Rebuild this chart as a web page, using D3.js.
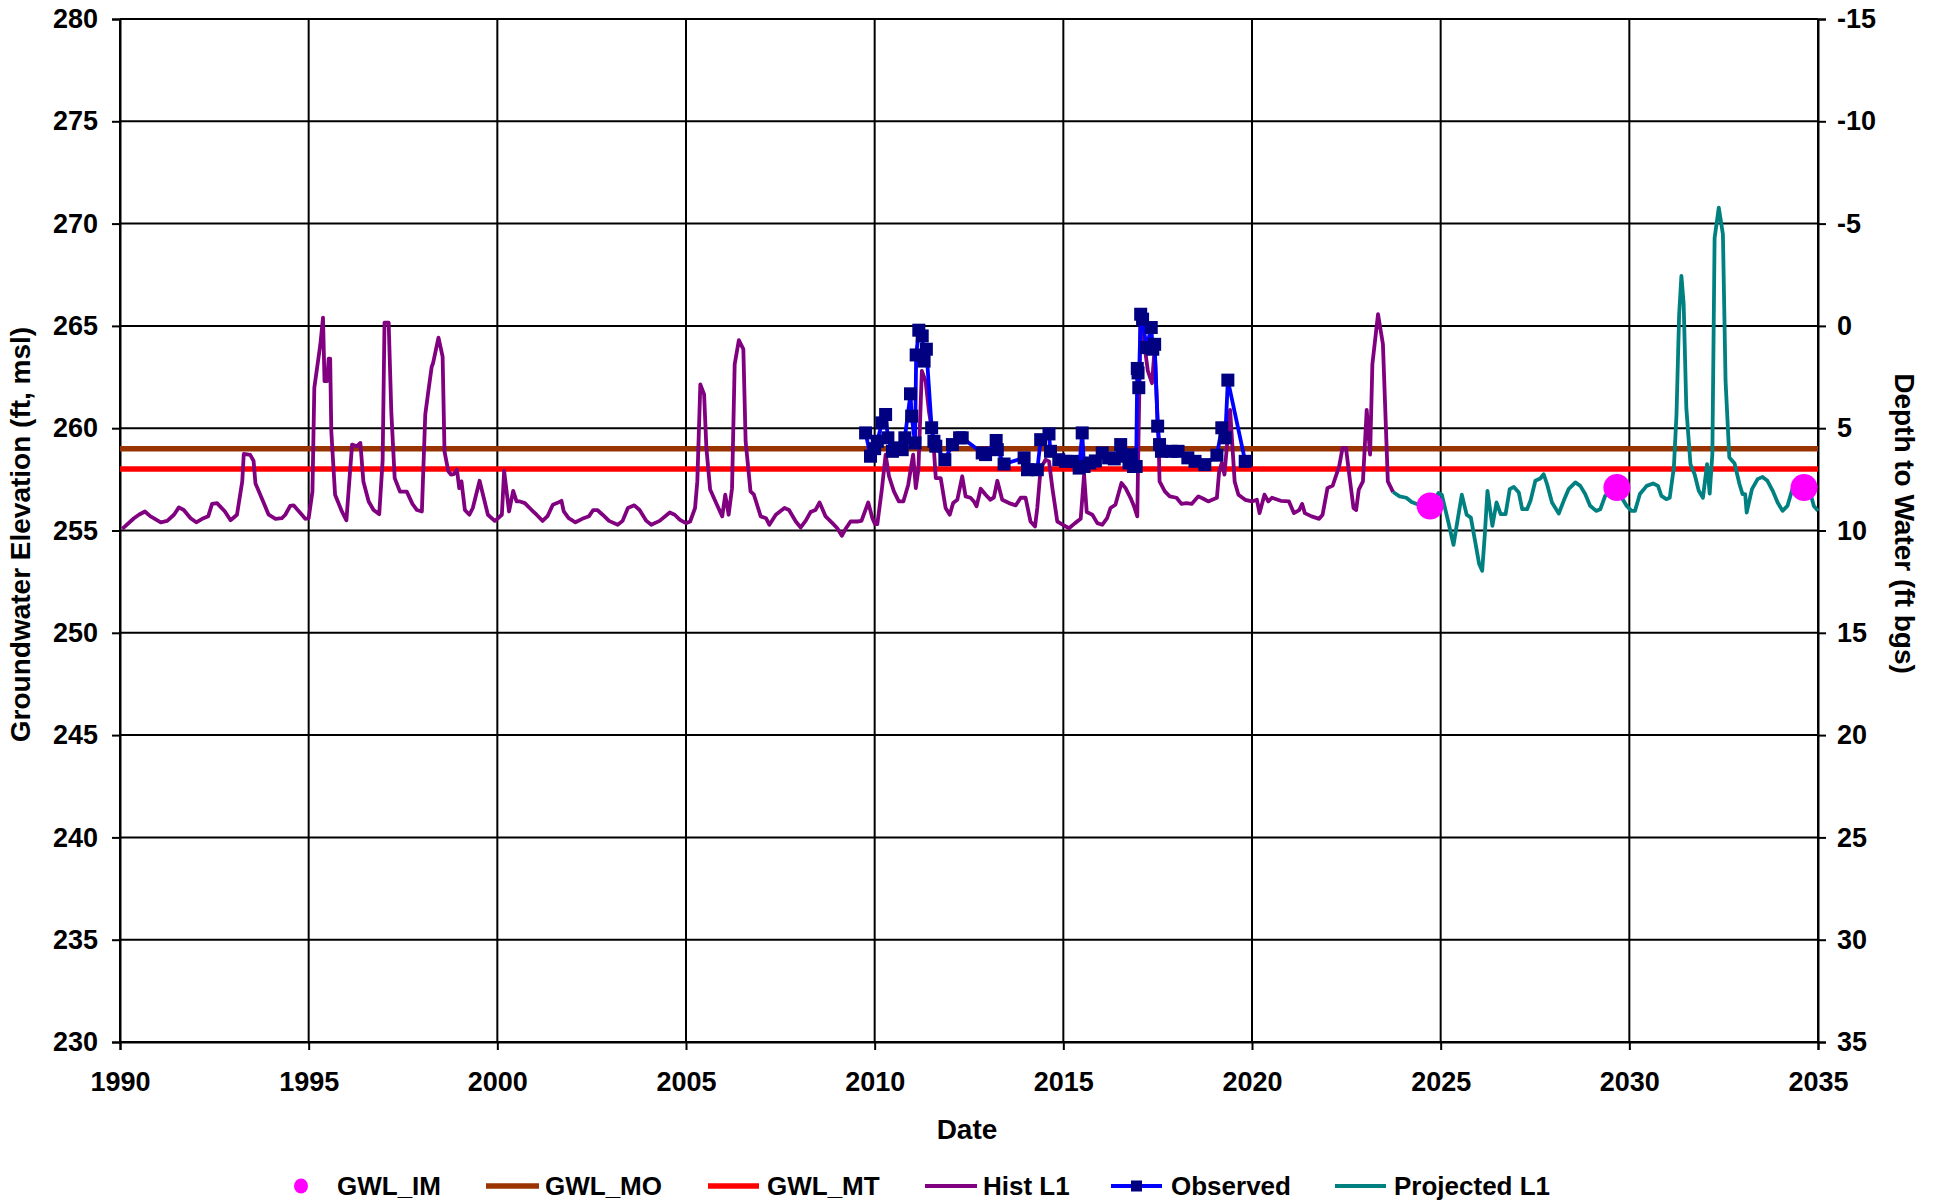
<!DOCTYPE html>
<html>
<head>
<meta charset="utf-8">
<script src="https://cdn.jsdelivr.net/npm/d3@7/dist/d3.min.js"></script>
<style>
  html, body { margin: 0; padding: 0; background: #ffffff; }
  svg { display: block; }
  text { font-family: "Liberation Sans", Arial, Helvetica, sans-serif; font-weight: bold; fill: #000; }
</style>
</head>
<body>
<script>
// Groundwater elevation hydrograph: historical, observed and projected levels
// with measurable objective (MO), minimum threshold (MT) and interim milestones (IM).

const xTickYears = [1990, 1995, 2000, 2005, 2010, 2015, 2020, 2025, 2030, 2035];
const elevTicks = [230, 235, 240, 245, 250, 255, 260, 265, 270, 275, 280];
const depthTicks = [35, 30, 25, 20, 15, 10, 5, 0, -5, -10, -15];
const groundSurface = 265; // depth (ft bgs) = groundSurface - elevation

const gwlMO = 259;
const gwlMT = 258;

// Interim milestones [decimal year, elevation ft msl]
const gwlIM = [[2024.72, 256.2], [2029.67, 257.1], [2034.63, 257.1]];

// Historical simulated levels, layer 1 [decimal year, elevation]
const histL1 = [
  [1990.06,255.08],[1990.37,255.6],[1990.5,255.77],[1990.66,255.93],[1990.8,255.7],[1991.08,255.4],
  [1991.25,255.47],[1991.43,255.77],[1991.56,256.13],[1991.69,256.0],[1991.87,255.6],[1992.02,255.4],
  [1992.18,255.57],[1992.34,255.7],[1992.44,256.3],[1992.57,256.34],[1992.78,255.93],[1992.93,255.5],
  [1993.1,255.77],[1993.24,257.4],[1993.28,258.74],[1993.45,258.7],[1993.54,258.4],[1993.59,257.3],
  [1993.81,256.34],[1993.94,255.77],[1994.12,255.57],[1994.29,255.6],[1994.38,255.77],[1994.51,256.2],
  [1994.6,256.23],[1994.78,255.85],[1994.91,255.57],[1995.0,255.6],[1995.1,256.9],[1995.15,261.98],
  [1995.31,264.1],[1995.38,265.4],[1995.42,262.3],[1995.49,262.3],[1995.53,263.4],[1995.57,263.4],
  [1995.6,259.85],[1995.7,256.75],[1995.88,255.93],[1996.0,255.5],[1996.15,259.2],[1996.28,259.12],
  [1996.37,259.28],[1996.45,257.4],[1996.59,256.42],[1996.72,256.0],[1996.87,255.8],[1996.96,258.4],
  [1997.01,265.16],[1997.12,265.16],[1997.19,260.8],[1997.28,257.56],[1997.42,256.9],[1997.6,256.9],
  [1997.75,256.3],[1997.87,256.0],[1998.0,255.93],[1998.09,260.67],[1998.16,261.65],[1998.26,263.0],
  [1998.3,263.2],[1998.44,264.43],[1998.55,263.5],[1998.6,258.87],[1998.7,257.9],[1998.77,257.73],
  [1998.85,257.76],[1998.93,257.97],[1998.99,257.07],[1999.05,257.4],[1999.14,256.0],[1999.26,255.77],
  [1999.35,256.1],[1999.53,257.43],[1999.62,256.75],[1999.75,255.77],[1999.93,255.47],[2000.02,255.6],
  [2000.12,255.77],[2000.18,257.92],[2000.31,255.93],[2000.42,256.94],[2000.51,256.42],[2000.6,256.42],
  [2000.73,256.34],[2000.91,256.0],[2001.04,255.77],[2001.2,255.47],[2001.33,255.7],[2001.47,256.26],
  [2001.58,256.34],[2001.7,256.45],[2001.76,255.93],[2001.89,255.6],[2002.07,255.4],[2002.25,255.57],
  [2002.43,255.7],[2002.54,256.0],[2002.65,256.0],[2002.79,255.77],[2002.96,255.47],[2003.19,255.28],
  [2003.32,255.47],[2003.46,256.1],[2003.63,256.23],[2003.77,256.0],[2003.95,255.47],[2004.08,255.28],
  [2004.3,255.47],[2004.57,255.88],[2004.7,255.77],[2004.84,255.52],[2005.0,255.36],[2005.11,255.44],
  [2005.24,256.1],[2005.3,257.4],[2005.38,262.14],[2005.48,261.65],[2005.54,259.04],[2005.64,257.0],
  [2005.82,256.26],[2005.96,255.69],[2006.04,256.75],[2006.13,255.77],[2006.22,257.07],[2006.29,263.12],
  [2006.4,264.3],[2006.52,263.86],[2006.58,259.36],[2006.71,256.91],[2006.8,256.75],[2006.98,255.69],
  [2007.12,255.6],[2007.21,255.28],[2007.38,255.77],[2007.61,256.1],[2007.73,256.0],[2007.91,255.44],
  [2008.04,255.15],[2008.17,255.47],[2008.3,255.9],[2008.43,256.0],[2008.54,256.37],[2008.7,255.69],
  [2008.88,255.36],[2009.01,255.11],[2009.13,254.74],[2009.24,255.11],[2009.36,255.44],[2009.54,255.44],
  [2009.65,255.47],[2009.83,256.37],[2009.94,255.6],[2010.01,255.31],[2010.07,255.31],[2010.19,257.0],
  [2010.29,258.71],[2010.38,257.65],[2010.51,256.91],[2010.64,256.42],[2010.76,256.42],[2010.89,257.24],
  [2010.96,258.05],[2011.02,258.71],[2011.09,257.07],[2011.16,258.0],[2011.25,262.8],[2011.35,262.3],
  [2011.44,260.8],[2011.55,259.5],[2011.62,257.56],[2011.75,257.56],[2011.88,256.1],[2011.99,255.77],
  [2012.08,256.34],[2012.19,256.5],[2012.32,257.65],[2012.41,256.67],[2012.54,256.6],[2012.63,256.42],
  [2012.7,256.18],[2012.81,257.04],[2012.94,256.75],[2013.07,256.5],[2013.16,256.62],[2013.25,257.43],
  [2013.38,256.5],[2013.56,256.34],[2013.74,256.23],[2013.87,256.6],[2014.0,256.6],[2014.13,255.44],
  [2014.25,255.2],[2014.31,256.1],[2014.4,258.05],[2014.53,258.46],[2014.62,258.38],[2014.71,257.07],
  [2014.84,255.44],[2014.99,255.28],[2015.15,255.11],[2015.31,255.36],[2015.46,255.57],[2015.55,257.73],
  [2015.62,255.9],[2015.77,255.77],[2015.9,255.36],[2016.03,255.28],[2016.16,255.6],[2016.25,256.1],
  [2016.38,256.26],[2016.54,257.32],[2016.65,257.07],[2016.78,256.6],[2016.87,256.2],[2016.96,255.69],
  [2016.98,258.2],[2017.05,265.57],[2017.17,263.77],[2017.24,262.8],[2017.35,262.2],[2017.42,263.9],
  [2017.53,259.04],[2017.55,257.4],[2017.69,256.91],[2017.82,256.67],[2018.0,256.6],[2018.13,256.3],
  [2018.26,256.34],[2018.4,256.3],[2018.58,256.67],[2018.71,256.55],[2018.84,256.42],[2019.07,256.6],
  [2019.13,257.9],[2019.2,258.3],[2019.27,257.73],[2019.42,260.9],[2019.54,257.4],[2019.64,256.75],
  [2019.82,256.5],[2020.0,256.42],[2020.13,256.5],[2020.2,255.85],[2020.33,256.75],[2020.43,256.42],
  [2020.53,256.6],[2020.76,256.45],[2020.98,256.42],[2021.11,255.85],[2021.25,256.0],[2021.33,256.3],
  [2021.4,255.85],[2021.58,255.69],[2021.78,255.57],[2021.87,255.77],[2022.0,257.07],[2022.14,257.2],
  [2022.31,258.13],[2022.4,259.04],[2022.49,259.04],[2022.6,257.4],[2022.69,256.1],[2022.76,256.0],
  [2022.83,257.0],[2022.94,257.4],[2023.04,260.9],[2023.13,258.71],[2023.19,263.12],[2023.34,265.57],
  [2023.47,264.1],[2023.6,257.4],[2023.74,256.88]
];

// Observed water levels [decimal year, elevation]
const observed = [
  [2009.76,259.77],[2009.89,258.63],[2010.0,259.0],[2010.07,259.36],[2010.19,260.26],[2010.29,260.67],
  [2010.35,259.53],[2010.47,258.87],[2010.6,259.04],[2010.73,258.95],[2010.8,259.53],[2010.95,261.68],
  [2010.98,260.59],[2011.07,259.28],[2011.1,263.58],[2011.17,264.79],[2011.26,264.51],[2011.31,263.28],
  [2011.37,263.86],[2011.51,260.02],[2011.57,259.36],[2011.62,259.12],[2011.86,258.46],[2012.06,259.2],
  [2012.25,259.53],[2012.32,259.53],[2012.85,258.79],[2012.94,258.71],[2013.22,259.4],[2013.25,258.95],
  [2013.43,258.25],[2013.96,258.55],[2014.05,257.97],[2014.31,257.97],[2014.4,259.44],[2014.62,259.72],
  [2014.66,258.87],[2014.88,258.46],[2015.06,258.38],[2015.24,258.38],[2015.42,258.05],[2015.5,259.77],
  [2015.55,258.13],[2015.7,258.3],[2015.85,258.4],[2016.03,258.79],[2016.2,258.55],[2016.35,258.5],
  [2016.52,259.2],[2016.56,258.63],[2016.74,258.3],[2016.8,258.7],[2016.86,258.13],[2016.93,258.13],
  [2016.96,262.92],[2016.98,262.7],[2017.0,261.98],[2017.05,265.57],[2017.1,265.33],[2017.2,263.94],
  [2017.33,264.92],[2017.37,263.86],[2017.42,264.1],[2017.5,260.1],[2017.55,259.2],[2017.6,258.87],
  [2017.86,258.87],[2018.04,258.87],[2018.3,258.55],[2018.49,258.38],[2018.75,258.22],[2019.07,258.68],
  [2019.2,260.02],[2019.29,259.53],[2019.36,262.35],[2019.82,258.38]
];

// Projected levels, layer 1 [decimal year, elevation]
const projectedL1 = [
  [2023.74,256.88],[2023.91,256.67],[2024.09,256.6],[2024.23,256.39],[2024.45,256.23],[2024.6,256.1],
  [2024.75,256.2],[2024.94,256.83],[2025.03,256.75],[2025.2,255.44],[2025.34,254.3],[2025.56,256.75],
  [2025.69,255.77],[2025.8,255.63],[2025.93,254.3],[2026.02,253.36],[2026.1,253.03],[2026.17,254.8],
  [2026.24,256.94],[2026.37,255.23],[2026.48,256.37],[2026.59,255.8],[2026.72,255.8],[2026.83,257.02],
  [2026.94,257.13],[2027.07,256.86],[2027.16,256.04],[2027.29,256.04],[2027.38,256.45],[2027.51,257.43],
  [2027.64,257.54],[2027.73,257.75],[2027.82,257.26],[2027.95,256.37],[2028.13,255.83],[2028.26,256.45],
  [2028.39,257.02],[2028.57,257.35],[2028.7,257.18],[2028.83,256.78],[2028.96,256.21],[2029.12,255.96],
  [2029.23,256.04],[2029.36,256.69],[2029.58,257.1],[2029.8,256.6],[2029.93,256.2],[2030.06,255.96],
  [2030.15,255.96],[2030.28,256.78],[2030.46,257.18],[2030.63,257.3],[2030.76,257.18],[2030.85,256.69],
  [2030.98,256.53],[2031.07,256.6],[2031.18,258.08],[2031.25,260.68],[2031.32,265.57],[2031.38,267.44],
  [2031.44,266.06],[2031.51,261.0],[2031.62,258.24],[2031.73,257.75],[2031.84,256.94],[2031.95,256.6],
  [2032.06,258.24],[2032.13,256.8],[2032.2,258.73],[2032.26,269.3],[2032.37,270.78],[2032.48,269.48],
  [2032.55,262.31],[2032.65,258.57],[2032.79,258.27],[2032.92,257.26],[2033.0,256.78],[2033.07,256.78],
  [2033.11,255.88],[2033.25,257.02],[2033.4,257.51],[2033.53,257.62],[2033.66,257.43],[2033.8,256.94],
  [2033.93,256.37],[2034.06,255.96],[2034.19,256.2],[2034.32,257.02],[2034.5,257.51],[2034.71,257.43],
  [2034.89,256.2],[2035.0,255.96]
];

const legendItems = ["GWL_IM", "GWL_MO", "GWL_MT", "Hist L1", "Observed", "Projected L1"];

const colors = {
  im: "#FF00FF", mo: "#993300", mt: "#FF0000",
  hist: "#800080", obsLine: "#0000FF", obsMark: "#000080", proj: "#008080"
};

const W = 1939, H = 1202;
const plot = { left: 120, right: 1818, top: 19, bottom: 1042 };

const svg = d3.select("body").append("svg").attr("width", W).attr("height", H);

const x = d3.scaleLinear().domain([1990, 2035]).range([plot.left, plot.right]);
const y = d3.scaleLinear().domain([230, 280]).range([plot.bottom, plot.top]);
const yDepth = d3.scaleLinear()
  .domain([groundSurface - 230, groundSurface - 280])
  .range([plot.bottom, plot.top]);

// Grid
const grid = svg.append("g").attr("stroke", "#000").attr("stroke-width", 2);
grid.selectAll("line.h").data(elevTicks).join("line")
  .attr("class", "h")
  .attr("x1", plot.left).attr("x2", plot.right)
  .attr("y1", d => y(d)).attr("y2", d => y(d));
grid.selectAll("line.v").data(xTickYears).join("line")
  .attr("class", "v")
  .attr("x1", d => x(d)).attr("x2", d => x(d))
  .attr("y1", plot.top).attr("y2", plot.bottom);

// Axes (plain hyphen for negative numbers)
const fmt = d => String(d);
const tickFont = "27px";
const leftAxis = svg.append("g").attr("transform", `translate(${plot.left},0)`)
  .call(d3.axisLeft(y).tickValues(elevTicks).tickSize(8).tickPadding(14).tickFormat(fmt));
const rightAxis = svg.append("g").attr("transform", `translate(${plot.right},0)`)
  .call(d3.axisRight(yDepth).tickValues(depthTicks).tickSize(8).tickPadding(11).tickFormat(fmt));
const bottomAxis = svg.append("g").attr("transform", `translate(0,${plot.bottom})`)
  .call(d3.axisBottom(x).tickValues(xTickYears).tickSize(8).tickPadding(22).tickFormat(fmt));

[leftAxis, rightAxis, bottomAxis].forEach(g => {
  g.selectAll("path.domain").attr("stroke", "#000").attr("stroke-width", 2);
  g.selectAll(".tick line").attr("stroke", "#000").attr("stroke-width", 2);
  g.selectAll(".tick text")
    .style("font-family", '"Liberation Sans", Arial, sans-serif')
    .style("font-weight", "bold").style("font-size", tickFont).attr("fill", "#000");
});

// Axis titles
svg.append("text")
  .attr("transform", `translate(30,${(plot.top + plot.bottom) / 2 + 4}) rotate(-90)`)
  .attr("text-anchor", "middle").style("font-size", "28px")
  .text("Groundwater Elevation (ft, msl)");
svg.append("text")
  .attr("transform", `translate(1895,${(plot.top + plot.bottom) / 2 - 7}) rotate(90)`)
  .attr("text-anchor", "middle").style("font-size", "28px")
  .text("Depth to Water (ft bgs)");
svg.append("text")
  .attr("x", (plot.left + plot.right) / 2 - 2).attr("y", 1139)
  .attr("text-anchor", "middle").style("font-size", "28px")
  .text("Date");

// Threshold lines
svg.append("line")
  .attr("x1", plot.left).attr("x2", plot.right)
  .attr("y1", y(gwlMO)).attr("y2", y(gwlMO))
  .attr("stroke", colors.mo).attr("stroke-width", 5.5);
svg.append("line")
  .attr("x1", plot.left).attr("x2", plot.right)
  .attr("y1", y(gwlMT)).attr("y2", y(gwlMT))
  .attr("stroke", colors.mt).attr("stroke-width", 5.5);

const line = d3.line().x(d => x(d[0])).y(d => y(d[1]));

svg.append("path").datum(histL1)
  .attr("d", line).attr("fill", "none")
  .attr("stroke", colors.hist).attr("stroke-width", 3.8).attr("stroke-linejoin", "round");

svg.append("path").datum(observed)
  .attr("d", line).attr("fill", "none")
  .attr("stroke", colors.obsLine).attr("stroke-width", 3.8).attr("stroke-linejoin", "round");
const sq = 13;
svg.append("g").selectAll("rect").data(observed).join("rect")
  .attr("x", d => x(d[0]) - sq / 2).attr("y", d => y(d[1]) - sq / 2)
  .attr("width", sq).attr("height", sq).attr("fill", colors.obsMark);

svg.append("path").datum(projectedL1)
  .attr("d", line).attr("fill", "none")
  .attr("stroke", colors.proj).attr("stroke-width", 3.8).attr("stroke-linejoin", "round");

svg.append("g").selectAll("circle").data(gwlIM).join("circle")
  .attr("cx", d => x(d[0])).attr("cy", d => y(d[1])).attr("r", 13.5)
  .attr("fill", colors.im);

// Legend
const legendY = 1186;
const legendPos = [
  { sx: 301, tx: 337 },
  { lx1: 486, lx2: 539, tx: 545 },
  { lx1: 708, lx2: 759, tx: 767 },
  { lx1: 925, lx2: 977, tx: 983 },
  { lx1: 1111, lx2: 1162, tx: 1171 },
  { lx1: 1335, lx2: 1386, tx: 1394 }
];
const legendStyle = [
  { type: "dot", color: colors.im },
  { type: "line", color: colors.mo, w: 5.5 },
  { type: "line", color: colors.mt, w: 5.5 },
  { type: "line", color: colors.hist, w: 4 },
  { type: "lineMark", color: colors.obsLine, w: 4, mark: colors.obsMark },
  { type: "line", color: colors.proj, w: 4 }
];
const legend = svg.append("g");
legendItems.forEach((name, i) => {
  const p = legendPos[i], s = legendStyle[i];
  if (s.type === "dot") {
    legend.append("ellipse").attr("cx", p.sx).attr("cy", legendY)
      .attr("rx", 7).attr("ry", 7.5).attr("fill", s.color);
  } else {
    legend.append("line").attr("x1", p.lx1).attr("x2", p.lx2)
      .attr("y1", legendY).attr("y2", legendY)
      .attr("stroke", s.color).attr("stroke-width", s.w);
    if (s.type === "lineMark") {
      const cx = (p.lx1 + p.lx2) / 2;
      legend.append("rect").attr("x", cx - 5.5).attr("y", legendY - 5.5)
        .attr("width", 11).attr("height", 11).attr("fill", s.mark);
    }
  }
  legend.append("text").attr("x", p.tx).attr("y", legendY + 9)
    .style("font-size", "26px").text(name);
});
</script>
</body>
</html>
